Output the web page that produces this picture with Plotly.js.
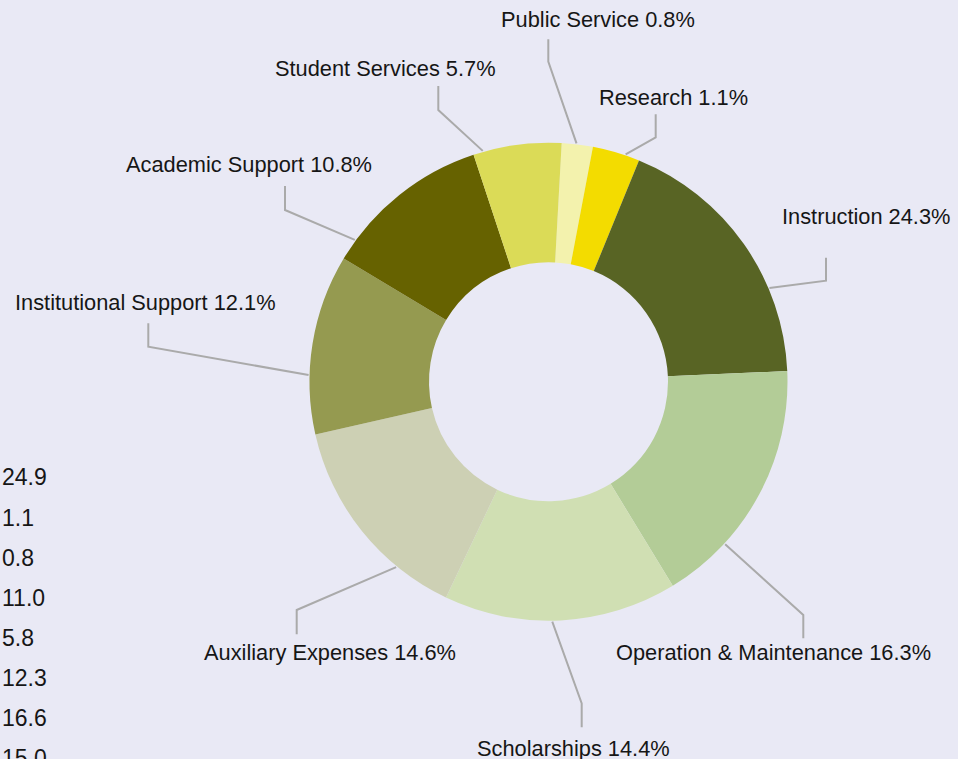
<!DOCTYPE html>
<html>
<head>
<meta charset="utf-8">
<script src="https://cdn.plot.ly/plotly-3.0.1.min.js"></script>
<style>
  html, body { margin: 0; padding: 0; background: #e9e9f5; }
  #chart { width: 958px; height: 759px; }
</style>
</head>
<body>
<div id="chart"></div>
<script>
// ---- Data ----
var categories = ["Public Service", "Research", "Instruction", "Operation & Maintenance",
  "Scholarships", "Auxiliary Expenses", "Institutional Support", "Academic Support", "Student Services"];
// slice sizes as drawn in the picture
var sliceValues = [2.1, 3.2, 18.1, 17.0, 15.75, 14.4, 12.15, 11.3, 5.95];
// percentages printed in the labels
var labelPercents = ["0.8", "1.1", "24.3", "16.3", "14.4", "14.6", "12.1", "10.8", "5.7"];
var sliceColors = ["#f3f2ad", "#f3dc00", "#586424", "#b3cc97", "#d0dfb3", "#cdd0b4", "#959a50", "#666200", "#dbdb57"];
// column of numbers printed at the left edge
var sideValues = ["24.9", "1.1", "0.8", "11.0", "5.8", "12.3", "16.6", "15.0"];

// ---- Layout constants (pixels) ----
var W = 958, H = 759;
var CX = 548.5, CY = 381.7, R = 239;
// label centre and connector polyline (start angle on ring in degrees clockwise from top, elbow, end)
var labelLayout = [
  {tx: 598, ty: 20, a: 6.7, elbow: [548.3, 61.7], end: [548.3, 39.3]},
  {tx: 673.3, ty: 97, a: 18.75, elbow: [655.7, 137.3], end: [655.7, 114.3]},
  {tx: 865.5, ty: 216, a: 67, elbow: [826, 280.7], end: [826, 257.7]},
  {tx: 773.5, ty: 652, a: 132.6, elbow: [803.3, 615], end: [803.3, 638.3]},
  {tx: 573.5, ty: 748, a: 179.1, elbow: [581.7, 703.3], end: [581.7, 727.3]},
  {tx: 330.3, ty: 652, a: 219.4, elbow: [296.7, 610], end: [296.7, 634.3]},
  {tx: 145, ty: 302.5, a: 271.6, elbow: [148.3, 346.7], end: [148.3, 323.3]},
  {tx: 248.7, ty: 164, a: 306.2, elbow: [285, 210], end: [285, 186]},
  {tx: 385, ty: 68.8, a: 344.1, elbow: [438.3, 110], end: [438.3, 86]}
];

function px(x) { return x / W; }
function py(y) { return 1 - y / H; }

var trace = {
  type: "pie",
  labels: categories,
  values: sliceValues,
  sort: false,
  direction: "clockwise",
  rotation: 3.16,
  hole: 0.5,
  marker: { colors: sliceColors, line: { width: 0 } },
  textinfo: "none",
  hoverinfo: "label+percent",
  showlegend: false,
  domain: { x: [px(CX - R), px(CX + R)], y: [py(CY + R), py(CY - R)] }
};

var font = { family: "Liberation Sans, Arial, sans-serif", size: 21.8, color: "#161616" };
var sideFont = { family: "Liberation Sans, Arial, sans-serif", size: 23, color: "#161616" };
var annotations = [];
var shapes = [];
categories.forEach(function (c, i) {
  var L = labelLayout[i];
  annotations.push({
    xref: "paper", yref: "paper", x: px(L.tx), y: py(L.ty),
    xanchor: "center", yanchor: "middle", showarrow: false,
    text: c.replace("&", "&amp;") + " " + labelPercents[i] + "%", font: font
  });
  var ang = L.a * Math.PI / 180;
  var sx = CX + (R + 1) * Math.sin(ang), sy = CY - (R + 1) * Math.cos(ang);
  shapes.push({
    type: "path", xref: "paper", yref: "paper",
    path: "M " + px(sx) + "," + py(sy) + " L " + px(L.elbow[0]) + "," + py(L.elbow[1]) +
          " L " + px(L.end[0]) + "," + py(L.end[1]),
    line: { color: "#aaaaaa", width: 2 }
  });
});
sideValues.forEach(function (v, i) {
  annotations.push({
    xref: "paper", yref: "paper", x: px(0), y: py(477.5 + 40 * i),
    xanchor: "left", yanchor: "middle", showarrow: false,
    text: v, font: sideFont
  });
});

var layout = {
  width: W, height: H,
  margin: { l: 0, r: 0, t: 0, b: 0 },
  paper_bgcolor: "#e9e9f5",
  plot_bgcolor: "#e9e9f5",
  annotations: annotations,
  shapes: shapes
};

Plotly.newPlot("chart", [trace], layout, { displayModeBar: false, staticPlot: true });
</script>
</body>
</html>
